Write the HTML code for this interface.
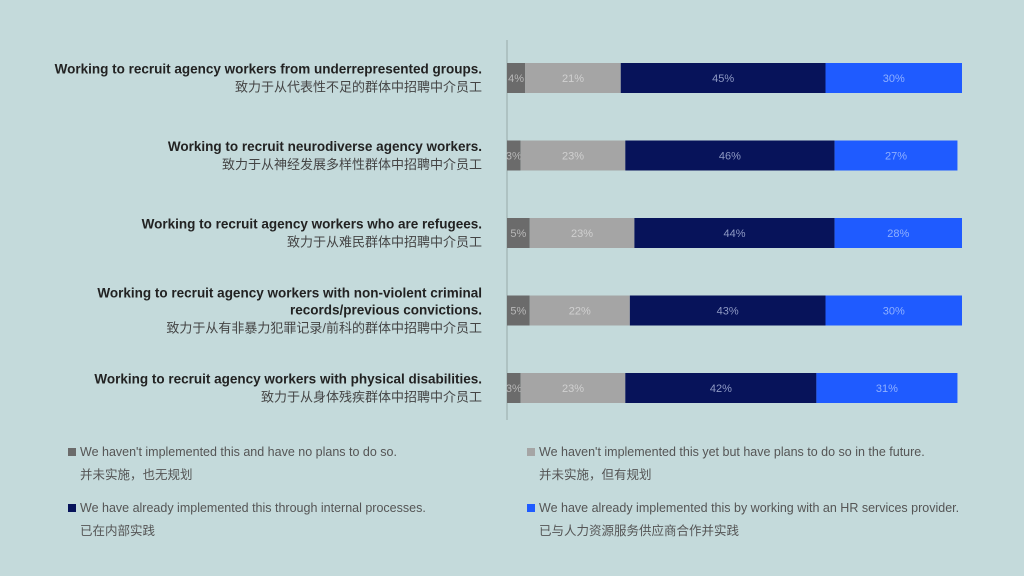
<!DOCTYPE html>
<html><head><meta charset="utf-8"><style>
body{margin:0;background:#c4dadb;}
svg{display:block;font-family:"Liberation Sans","Noto Sans CJK SC",sans-serif;}
</style></head><body>
<svg width="1024" height="576" viewBox="0 0 1024 576">
<rect width="1024" height="576" fill="#c4dadb"/>
<line x1="507" y1="40" x2="507" y2="420" stroke="#9aa" stroke-width="1"/>
<g id="labels"></g><g id="bars"></g><g id="legend"></g>
</svg>
<script>
const categoriesEn = [["Working to recruit agency workers from underrepresented groups."],["Working to recruit neurodiverse agency workers."],["Working to recruit agency workers who are refugees."],["Working to recruit agency workers with non-violent criminal","records/previous convictions."],["Working to recruit agency workers with physical disabilities."]];
const categoriesZh = ["致力于从代表性不足的群体中招聘中介员工","致力于从神经发展多样性群体中招聘中介员工","致力于从难民群体中招聘中介员工","致力于从有非暴力犯罪记录/前科的群体中招聘中介员工","致力于从身体残疾群体中招聘中介员工"];
const noPlans = [4,3,5,5,3];
const plans = [21,23,23,22,23];
const internal = [45,46,44,43,42];
const hrProvider = [30,27,28,30,31];
const seriesNames = ["no-plans","plans","internal","hr-provider"];
const colors = ["#6b6b6b","#a5a5a5","#07135a","#1f5bff"];
const textColors = ["#b8b8b8","#d0d0d0","#8f9ac4","#8fb0ff"];
const legendEn = ["We haven't implemented this and have no plans to do so.","We haven't implemented this yet but have plans to do so in the future.","We have already implemented this through internal processes.","We have already implemented this by working with an HR services provider."];
const legendZh = ["并未实施，也无规划","并未实施，但有规划","已在内部实践","已与人力资源服务供应商合作并实践"];
const NS="http://www.w3.org/2000/svg";
const x0=507, scale=4.55, barH=30;
function xScale(v){return x0+v*scale;}
function yCenter(i){return 78+i*77.5;}
function mk(tag,attrs,parent){const e=document.createElementNS(NS,tag);for(const k in attrs)e.setAttribute(k,attrs[k]);parent.appendChild(e);return e;}
const series=[noPlans,plans,internal,hrProvider];
const bars=document.getElementById('bars'), labels=document.getElementById('labels'), legend=document.getElementById('legend');
categoriesEn.forEach((lines,i)=>{
  const yc=yCenter(i);
  let cum=0;
  series.forEach((s,j)=>{
    const v=s[i];
    const r=mk('rect',{x:xScale(cum),y:yc-barH/2,width:v*scale,height:barH,fill:colors[j]},bars);
    
    
    const t=mk('text',{x:xScale(cum+v/2),y:yc+4,'text-anchor':'middle','font-size':11,fill:textColors[j]},bars);
    t.textContent=v+'%';
    
    
    cum+=v;
  });
  const n=lines.length;
  const top=yc-((n)*17)/2+4;
  lines.forEach((ln,k)=>{
    const t=mk('text',{x:482,y:top+k*17,'text-anchor':'end','font-size':13.5,'font-weight':'bold',fill:'#222'},labels);
    t.textContent=ln;
    
    
  });
  const z=mk('text',{x:482,y:top+n*17+1,'text-anchor':'end','font-size':13,fill:'#444'},labels);
  z.textContent=categoriesZh[i];
  
  
});
legendEn.forEach((txt,j)=>{
  const lx = j%2===0 ? 68 : 527;
  const ly = j<2 ? 456 : 512;
  const sq=mk('rect',{x:lx,y:ly-8,width:8,height:8,fill:colors[j]},legend);
  
  
  const t=mk('text',{x:lx+12,y:ly,'font-size':12.5,fill:'#555'},legend);
  t.textContent=txt;
  
  
  const z=mk('text',{x:lx+12,y:ly+23,'font-size':12.5,fill:'#555'},legend);
  z.textContent=legendZh[j];
  
  
});
</script>
</body></html>
